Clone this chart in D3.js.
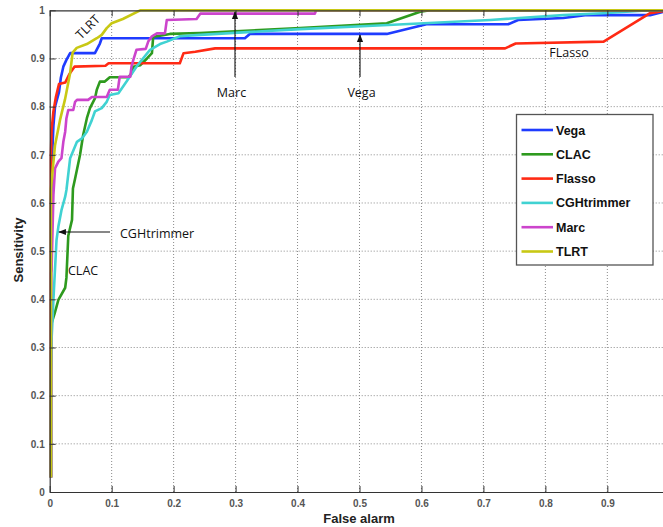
<!DOCTYPE html>
<html>
<head>
<meta charset="utf-8">
<script src="https://cdn.jsdelivr.net/npm/d3@7"></script>
<style>
  html, body { margin: 0; padding: 0; background: #fff; }
  svg { display: block; }
</style>
</head>
<body>
<div id="chart"></div>
<script>
// ROC curves: [false alarm, sensitivity] pairs for each method
const vega = [[0.002,0.03],[0.002,0.6],[0.003,0.65],[0.004,0.70],[0.006,0.76],[0.0086,0.80],[0.015,0.83],[0.018,0.86],[0.022,0.883],[0.027,0.897],[0.033,0.911],[0.073,0.911],[0.081,0.931],[0.084,0.942],[0.315,0.942],[0.323,0.951],[0.544,0.951],[0.608,0.971],[0.740,0.971],[0.756,0.980],[0.829,0.984],[0.864,0.99],[0.969,0.99],[1,1]];
const clac = [[0.002,0.03],[0.002,0.2],[0.002,0.25],[0.003,0.35],[0.008,0.371],[0.014,0.399],[0.025,0.424],[0.027,0.445],[0.030,0.532],[0.036,0.565],[0.0375,0.63],[0.041,0.651],[0.049,0.70],[0.054,0.741],[0.060,0.776],[0.065,0.797],[0.073,0.817],[0.076,0.835],[0.081,0.852],[0.089,0.852],[0.097,0.861],[0.127,0.861],[0.132,0.869],[0.135,0.883],[0.146,0.886],[0.157,0.90],[0.165,0.911],[0.167,0.945],[0.178,0.947],[0.194,0.951],[0.242,0.953],[0.404,0.963],[0.544,0.973],[0.598,0.997],[0.614,1],[1,1]];
const flasso = [[0.002,0.03],[0.002,0.70],[0.003,0.75],[0.006,0.79],[0.010,0.82],[0.015,0.847],[0.025,0.85],[0.032,0.868],[0.040,0.883],[0.090,0.885],[0.095,0.89],[0.210,0.89],[0.216,0.911],[0.235,0.914],[0.267,0.921],[0.735,0.921],[0.752,0.931],[0.894,0.935],[0.969,0.994],[1,1]];
const cghtrimmer = [[0.002,0.03],[0.002,0.25],[0.003,0.316],[0.006,0.399],[0.011,0.523],[0.014,0.551],[0.019,0.585],[0.025,0.613],[0.027,0.627],[0.033,0.693],[0.044,0.727],[0.052,0.734],[0.060,0.748],[0.068,0.772],[0.073,0.79],[0.084,0.797],[0.092,0.81],[0.097,0.824],[0.111,0.828],[0.124,0.852],[0.140,0.883],[0.162,0.918],[0.178,0.93],[0.189,0.935],[0.210,0.946],[0.243,0.949],[0.404,0.961],[0.538,0.969],[0.711,0.98],[0.829,0.99],[0.893,0.994],[0.969,1],[1,1]];
const marc = [[0.002,0.03],[0.002,0.455],[0.003,0.46],[0.006,0.617],[0.0086,0.672],[0.014,0.686],[0.019,0.693],[0.022,0.727],[0.025,0.748],[0.027,0.776],[0.030,0.793],[0.038,0.793],[0.041,0.81],[0.044,0.814],[0.062,0.814],[0.068,0.82],[0.092,0.82],[0.097,0.835],[0.110,0.835],[0.113,0.862],[0.130,0.862],[0.132,0.883],[0.135,0.897],[0.140,0.918],[0.155,0.92],[0.159,0.935],[0.165,0.946],[0.173,0.952],[0.186,0.952],[0.189,0.98],[0.237,0.982],[0.243,0.993],[0.428,0.993],[0.43,1],[1,1]];
const tlrt = [[0.002,0.03],[0.002,0.63],[0.0086,0.72],[0.0166,0.772],[0.0247,0.815],[0.033,0.87],[0.037,0.912],[0.0436,0.922],[0.060,0.93],[0.076,0.942],[0.084,0.949],[0.092,0.963],[0.100,0.973],[0.118,0.982],[0.146,1],[1,1]];

const seriesNames = ["Vega", "CLAC", "Flasso", "CGHtrimmer", "Marc", "TLRT"];
const seriesData = [vega, clac, flasso, cghtrimmer, marc, tlrt];
const seriesColors = ["#1f3cff", "#2e9a1e", "#ff2a14", "#40d2d2", "#cc44cc", "#c8c814"];

const xTicks = [0, 0.1, 0.2, 0.3, 0.4, 0.5, 0.6, 0.7, 0.8, 0.9];
const yTicks = [0, 0.1, 0.2, 0.3, 0.4, 0.5, 0.6, 0.7, 0.8, 0.9, 1];

const W = 663, H = 527;
const svg = d3.select("#chart").append("svg").attr("width", W).attr("height", H);

const x = d3.scaleLinear().domain([0, 1]).range([49.7, 669.3]);
const y = d3.scaleLinear().domain([0, 1]).range([492, 10.3]);

const tickFmt = d => d === 0 ? "0" : d === 1 ? "1" : d3.format(".1f")(d);

// dotted grid
const grid = svg.append("g").attr("stroke", "#8a8a8a").attr("stroke-width", 1).attr("stroke-dasharray", "1,2");
grid.selectAll(".gx").data(xTicks.slice(1)).join("line")
  .attr("x1", d => x(d)).attr("x2", d => x(d)).attr("y1", y(0)).attr("y2", y(1));
grid.selectAll(".gy").data(yTicks.slice(1, -1)).join("line")
  .attr("x1", x(0)).attr("x2", x(1)).attr("y1", d => y(d)).attr("y2", d => y(d));

// curves
const line = d3.line().x(d => x(d[0])).y(d => y(d[1]));
svg.append("g").selectAll("path").data(seriesData).join("path")
  .attr("d", line)
  .attr("fill", "none")
  .attr("stroke", (d, i) => seriesColors[i])
  .attr("stroke-width", 2.6)
  .attr("stroke-linejoin", "round");

// axes (ticks point inward)
const axisStyle = g => {
  g.select(".domain").attr("stroke", "#333").attr("stroke-width", 1.2);
  g.selectAll(".tick line").attr("stroke", "#333");
  g.selectAll(".tick text").attr("fill", "#555").attr("font-family", "Liberation Sans, Arial, sans-serif")
    .attr("font-size", 10).attr("font-weight", "bold");
};
svg.append("g").attr("transform", `translate(0,${y(0)})`)
  .call(d3.axisBottom(x).tickValues(xTicks).tickFormat(tickFmt).tickSizeInner(-6).tickSizeOuter(0).tickPadding(8))
  .call(axisStyle);
svg.append("g").attr("transform", `translate(${x(0)},0)`)
  .call(d3.axisLeft(y).tickValues(yTicks).tickFormat(tickFmt).tickSizeInner(-6).tickSizeOuter(0).tickPadding(5))
  .call(axisStyle);
svg.append("g").attr("transform", `translate(0,${y(1)})`)
  .call(d3.axisTop(x).tickValues(xTicks).tickFormat("").tickSizeInner(-6).tickSizeOuter(0))
  .call(axisStyle);

// axis titles
svg.append("text").attr("x", 359).attr("y", 523).attr("text-anchor", "middle")
  .attr("font-family", "Liberation Sans, Arial, sans-serif").attr("font-size", 13).attr("font-weight", "bold")
  .attr("fill", "#222").text("False alarm");
svg.append("text").attr("transform", "translate(23,250) rotate(-90)").attr("text-anchor", "middle")
  .attr("font-family", "Liberation Sans, Arial, sans-serif").attr("font-size", 13).attr("font-weight", "bold")
  .attr("fill", "#222").text("Sensitivity");

// annotations
const ann = svg.append("g").attr("font-family", "Open Sans, Liberation Sans, sans-serif").attr("font-size", 12.5).attr("fill", "#111");
ann.append("text").attr("transform", "translate(91,30) rotate(-45)").attr("text-anchor", "middle").text("TLRT");
ann.append("text").attr("x", 231.5).attr("y", 97).attr("text-anchor", "middle").text("Marc");
ann.append("text").attr("x", 361.5).attr("y", 97).attr("text-anchor", "middle").text("Vega");
ann.append("text").attr("x", 569).attr("y", 57).attr("text-anchor", "middle").text("FLasso");
ann.append("text").attr("x", 120).attr("y", 238).text("CGHtrimmer");
ann.append("text").attr("x", 68).attr("y", 275).text("CLAC");

const defs = svg.append("defs");
defs.append("marker").attr("id", "ah").attr("viewBox", "0 0 10 10").attr("refX", 9).attr("refY", 5)
  .attr("markerWidth", 7).attr("markerHeight", 7).attr("orient", "auto")
  .append("path").attr("d", "M0,1 L10,5 L0,9 Z").attr("fill", "#111");
const arrows = [
  [235, 77, 235, 12],
  [360, 77, 360, 35],
  [110, 232, 59, 232]
];
svg.append("g").selectAll("line").data(arrows).join("line")
  .attr("x1", d => d[0]).attr("y1", d => d[1]).attr("x2", d => d[2]).attr("y2", d => d[3])
  .attr("stroke", "#111").attr("stroke-width", 1.1).attr("marker-end", "url(#ah)");

// legend
const lg = svg.append("g");
lg.append("rect").attr("x", 516.5).attr("y", 114.5).attr("width", 136.5).attr("height", 150.5)
  .attr("fill", "#fff").attr("stroke", "#555").attr("stroke-width", 1.3);
const rows = lg.selectAll("g.row").data(seriesNames).join("g")
  .attr("transform", (d, i) => `translate(0,${130 + i * 24.3})`);
rows.append("line").attr("x1", 521.5).attr("x2", 553).attr("y1", 0).attr("y2", 0)
  .attr("stroke", (d, i) => seriesColors[i]).attr("stroke-width", 2.6);
rows.append("text").attr("x", 556).attr("y", 4.5)
  .attr("font-family", "Liberation Sans, Arial, sans-serif").attr("font-size", 12.5).attr("font-weight", "bold")
  .attr("fill", "#111").text(d => d);
</script>
</body>
</html>
